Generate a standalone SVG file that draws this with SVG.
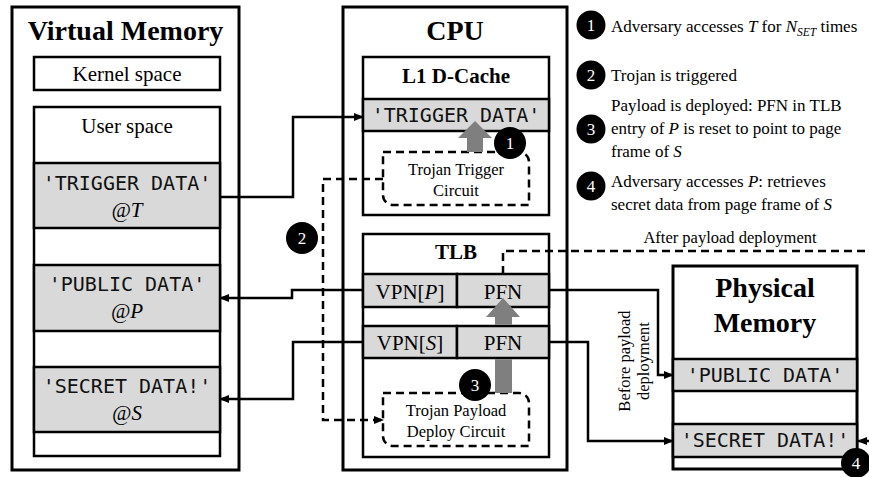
<svg xmlns="http://www.w3.org/2000/svg" width="869" height="477" viewBox="0 0 869 477">
<style>
.box{fill:#fff;stroke:#000;stroke-width:3}
.inner{fill:#fff;stroke:#000;stroke-width:2.5}
.row{fill:#d9d9d9;stroke:#000;stroke-width:2.5}
.dash{fill:none;stroke:#000;stroke-width:2.5;stroke-dasharray:8,5}
.conn{fill:none;stroke:#000;stroke-width:2.5}
.serif{font-family:"Liberation Serif","Times New Roman",serif;fill:#000}
.title{font-weight:bold;font-size:28px;text-anchor:middle}
.sub{font-weight:bold;font-size:21px;text-anchor:middle}
.lbl{font-size:21px;text-anchor:middle}
.small{font-size:16.5px;text-anchor:middle}
.leg{font-size:17px}
.mono{font-family:"DejaVu Sans Mono","Liberation Mono",monospace;font-size:20px;text-anchor:middle;fill:#111}
.badge{fill:#000}
.bnum{font-family:"Liberation Serif","Times New Roman",serif;font-size:17px;fill:#fff;text-anchor:middle}
.garrow{fill:#7f7f7f}
</style>
<defs>
<marker id="ah" markerWidth="10" markerHeight="8" refX="9" refY="4" orient="auto" markerUnits="userSpaceOnUse">
<path d="M0,0 L10,4 L0,8 Z" fill="#000"/>
</marker>
</defs>

<g id="virtual-memory">
<rect class="box" x="12" y="7" width="227" height="463"/>
<text class="serif title" x="125.5" y="40">Virtual Memory</text>
<rect class="inner" x="34" y="57" width="186" height="33"/>
<text class="serif lbl" x="127" y="81">Kernel space</text>
<rect class="inner" x="34" y="107" width="186" height="349"/>
<text class="serif lbl" x="127" y="133">User space</text>
<rect class="row" x="34" y="163" width="186" height="65"/>
<text class="mono" x="127" y="190">'TRIGGER DATA'</text>
<text class="serif lbl" x="127" y="217" font-style="italic">@T</text>
<rect class="row" x="34" y="265" width="186" height="66"/>
<text class="mono" x="127" y="291">'PUBLIC DATA'</text>
<text class="serif lbl" x="127" y="318" font-style="italic">@P</text>
<rect class="row" x="34" y="367" width="186" height="65"/>
<text class="mono" x="127" y="393">'SECRET DATA!'</text>
<text class="serif lbl" x="127" y="420" font-style="italic">@S</text>
</g>

<g id="cpu">
<rect class="box" x="343" y="7" width="224" height="463"/>
<text class="serif title" x="455" y="40">CPU</text>
</g>

<g id="l1-dcache">
<rect class="inner" x="363" y="57" width="186" height="158"/>
<text class="serif sub" x="456" y="83">L1 D-Cache</text>
<rect class="row" x="363" y="99" width="186" height="32"/>
<text class="mono" x="456" y="122">'TRIGGER DATA'</text>
</g>

<g id="trojan-trigger">
<path class="dash" d="M383,152 H519 A10,10 0 0 1 529,162 V205 H393 A10,10 0 0 1 383,195 Z"/>
<text class="serif small" x="456" y="175">Trojan Trigger</text>
<text class="serif small" x="456" y="196">Circuit</text>
</g>

<g id="tlb">
<rect class="inner" x="363" y="234" width="186" height="223"/>
<text class="serif sub" x="456" y="259">TLB</text>
<rect class="row" x="363" y="274" width="94" height="33"/>
<rect class="row" x="457" y="274" width="92" height="33"/>
<text class="serif lbl" x="410" y="299">VPN[<tspan font-style="italic">P</tspan>]</text>
<text class="serif lbl" x="503" y="299">PFN</text>
<rect class="row" x="363" y="326" width="94" height="32"/>
<rect class="row" x="457" y="326" width="92" height="32"/>
<text class="serif lbl" x="410" y="350">VPN[<tspan font-style="italic">S</tspan>]</text>
<text class="serif lbl" x="503" y="350">PFN</text>
</g>

<g id="trojan-payload">
<path class="dash" d="M383,393 H519 A10,10 0 0 1 529,403 V446 H393 A10,10 0 0 1 383,436 Z"/>
<text class="serif small" x="456" y="416">Trojan Payload</text>
<text class="serif small" x="456" y="437">Deploy Circuit</text>
</g>

<g id="physical-memory">
<rect class="box" x="673" y="266" width="184" height="203"/>
<text class="serif title" x="765" y="297" font-size="29">Physical</text>
<text class="serif title" x="765" y="332" font-size="29">Memory</text>
<rect class="row" x="673" y="359" width="184" height="32"/>
<text class="mono" x="765" y="382">'PUBLIC DATA'</text>
<rect class="row" x="673" y="424" width="184" height="33"/>
<text class="mono" x="765" y="447">'SECRET DATA!'</text>
</g>

<g id="connectors">
<path class="conn" d="M220,197 H293 V117 H363" marker-end="url(#ah)"/>
<path class="conn" d="M363,290 H292 V298 H220" marker-end="url(#ah)"/>
<path class="conn" d="M363,342 H293 V399 H220" marker-end="url(#ah)"/>
<path class="conn" d="M549,290 H658 V375 H673" marker-end="url(#ah)"/>
<path class="conn" d="M549,342 H588 V441 H673" marker-end="url(#ah)"/>
<path class="dash" d="M503,274 V251 H880"/>
<path class="conn" d="M872,441 H858" marker-end="url(#ah)"/>
<path class="dash" d="M383,179 H323 V420 H383" marker-end="url(#ah)"/>
<polygon class="garrow" points="475,121 492,138 483,138 483,152 467,152 467,138 458,138"/>
<polygon class="garrow" points="503,298 520,317 512,317 512,324.8 495,324.8 495,317 486,317"/>
<rect class="garrow" x="495" y="359.2" width="17" height="33.8"/>
</g>

<g id="labels">
<text class="serif small" x="730" y="243">After payload deployment</text>
<text class="serif small" transform="translate(630,361) rotate(-90)">Before payload</text>
<text class="serif small" transform="translate(649,361) rotate(-90)">deployment</text>
</g>

<g id="badges">
<circle class="badge" cx="510" cy="143" r="16"/><text class="bnum" x="510" y="149">1</text>
<circle class="badge" cx="302" cy="238" r="16"/><text class="bnum" x="302" y="244">2</text>
<circle class="badge" cx="475" cy="385" r="16"/><text class="bnum" x="475" y="391">3</text>
<circle class="badge" cx="856" cy="463" r="15"/><text class="bnum" x="856" y="469">4</text>
</g>

<g id="legend">
<circle class="badge" cx="591" cy="25" r="14.5"/><text class="bnum" x="591" y="31">1</text>
<text class="serif leg" x="611" y="32">Adversary accesses <tspan font-style="italic">T</tspan> for <tspan font-style="italic">N</tspan><tspan font-style="italic" font-size="11.5" dy="4">SET</tspan><tspan dy="-4"> times</tspan></text>
<circle class="badge" cx="591" cy="75" r="14.5"/><text class="bnum" x="591" y="81">2</text>
<text class="serif leg" x="611" y="81">Trojan is triggered</text>
<circle class="badge" cx="591" cy="129" r="14.5"/><text class="bnum" x="591" y="135">3</text>
<text class="serif leg" x="611" y="111">Payload is deployed: PFN in TLB</text>
<text class="serif leg" x="611" y="134">entry of <tspan font-style="italic">P</tspan> is reset to point to page</text>
<text class="serif leg" x="611" y="157">frame of <tspan font-style="italic">S</tspan></text>
<circle class="badge" cx="591" cy="186" r="14.5"/><text class="bnum" x="591" y="192">4</text>
<text class="serif leg" x="611" y="187">Adversary accesses <tspan font-style="italic">P</tspan>: retrieves</text>
<text class="serif leg" x="611" y="210">secret data from page frame of <tspan font-style="italic">S</tspan></text>
</g>
</svg>
